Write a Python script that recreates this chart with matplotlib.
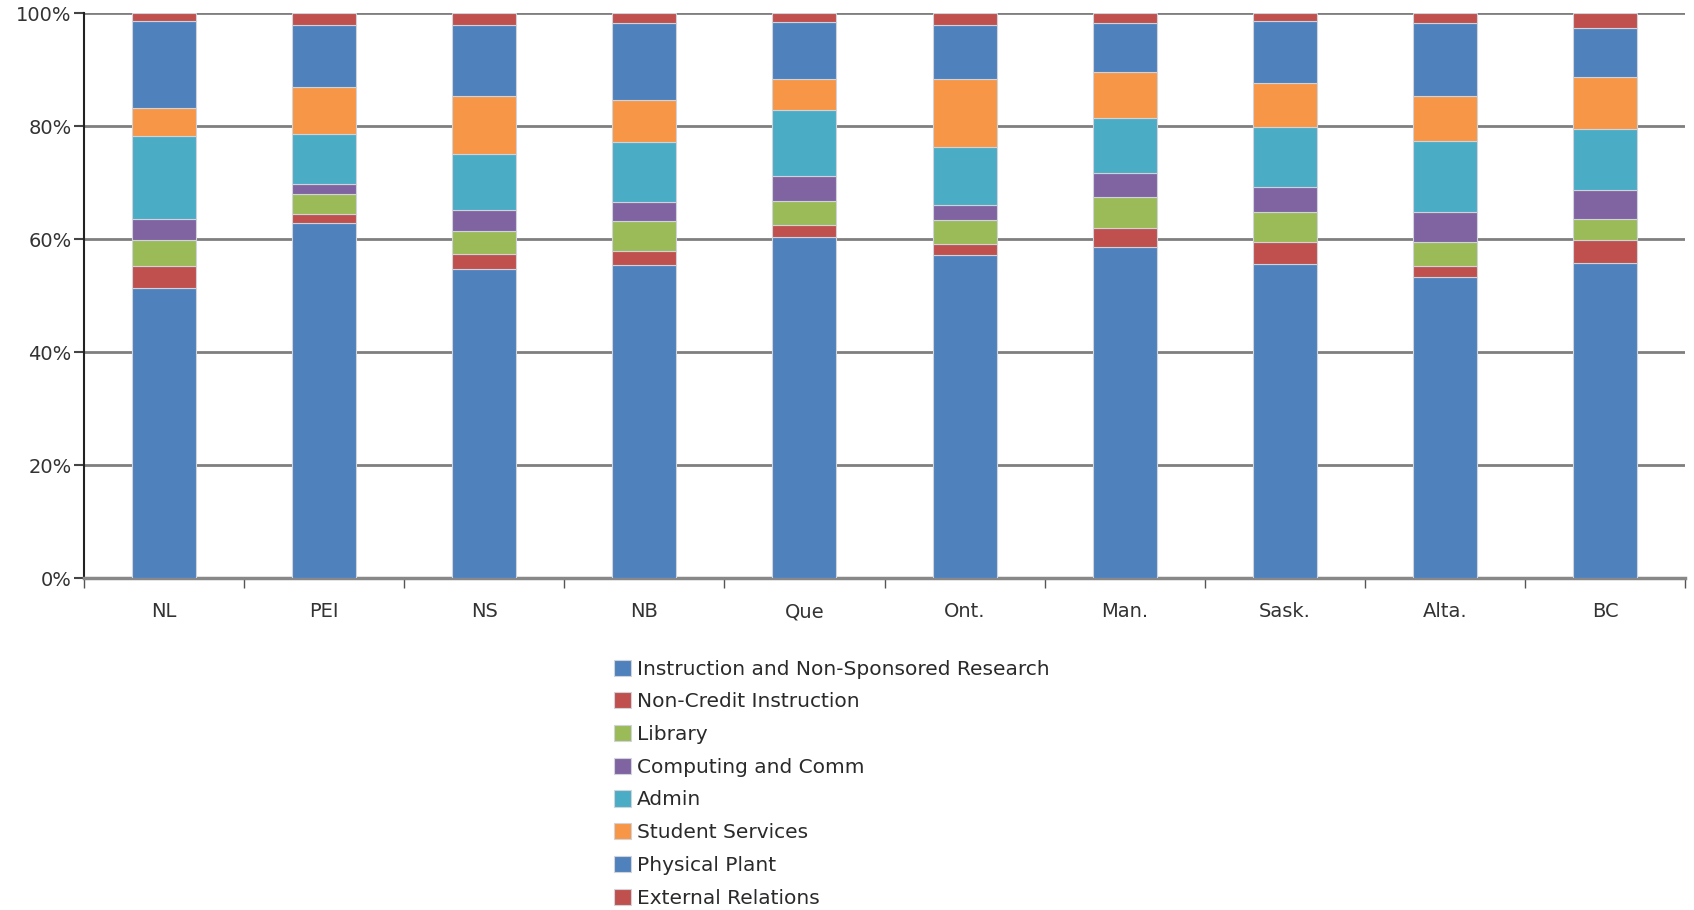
import matplotlib.pyplot as plt
import numpy as np

# Provincial university expenditure shares by function (%)
provinces = ['NL', 'PEI', 'NS', 'NB', 'Que', 'Ont.', 'Man.', 'Sask.', 'Alta.', 'BC']

instruction = [51.4, 62.9, 54.7, 55.4, 60.4, 57.2, 58.6, 55.6, 53.2, 55.8]
non_credit = [3.8, 1.5, 2.6, 2.4, 2.0, 2.0, 3.4, 3.9, 2.1, 4.0]
library = [4.6, 3.5, 4.2, 5.4, 4.3, 4.1, 5.4, 5.3, 4.2, 3.7]
computing = [3.7, 1.9, 3.6, 3.3, 4.5, 2.8, 4.2, 4.4, 5.3, 5.1]
admin = [14.7, 8.7, 9.9, 10.7, 11.6, 10.2, 9.9, 10.6, 12.5, 10.8]
student_services = [5.0, 8.4, 10.3, 7.4, 5.6, 12.0, 8.1, 7.9, 8.1, 9.2]
physical_plant = [15.3, 11.0, 12.5, 13.6, 10.0, 9.5, 8.6, 10.8, 12.8, 8.7]
external_relations = [1.5, 2.1, 2.2, 1.8, 1.6, 2.2, 1.8, 1.5, 1.8, 2.7]

series = [
    ('Instruction and Non-Sponsored Research', instruction, '#4F81BD'),
    ('Non-Credit Instruction', non_credit, '#C0504D'),
    ('Library', library, '#9BBB59'),
    ('Computing and Comm', computing, '#8064A2'),
    ('Admin', admin, '#4BACC6'),
    ('Student Services', student_services, '#F79646'),
    ('Physical Plant', physical_plant, '#4F81BD'),
    ('External Relations', external_relations, '#C0504D'),
]

plt.rcParams['font.family'] = ['DejaVu Sans']
fig = plt.figure(figsize=(16.94, 9.10), dpi=100)
ax = fig.add_axes([0.0496, 0.3648, 0.9451, 0.6209])

x = np.arange(len(provinces))
totals = np.zeros(len(provinces))
for name, vals, col in series:
    vals = np.array(vals)
    ax.bar(x, vals, width=0.4, bottom=totals, color=col, label=name,
           edgecolor='#d0d4da', linewidth=0.8, zorder=3)
    totals += vals

ax.set_xlim(-0.5, len(provinces) - 0.5)
ax.set_ylim(0, 100)
ax.set_yticks(range(0, 101, 20))
ax.set_yticklabels(['{}%'.format(v) for v in range(0, 101, 20)], fontsize=14, color='#333333')
ax.yaxis.grid(True, color='#7f7f7f', linewidth=2, zorder=0)
ax.set_axisbelow(True)

ax.set_xticks(x)
ax.set_xticklabels(provinces, fontsize=14, color='#333333')
ax.set_xticks(np.arange(-0.5, len(provinces)), minor=True)
ax.tick_params(axis='x', which='major', length=0, pad=17.5)
ax.tick_params(axis='x', which='minor', length=7, width=1, color='#555555')
ax.tick_params(axis='y', length=7, width=1.5, color='#444444', pad=2)

for s in ['top', 'right']:
    ax.spines[s].set_visible(False)
ax.spines['left'].set_color('#222222')
ax.spines['left'].set_linewidth(1.5)
ax.spines['bottom'].set_color('#888888')
ax.spines['bottom'].set_linewidth(2.5)

fig.legend(loc='upper left', bbox_to_anchor=(0.3625, 0.2751), frameon=False,
           ncol=1, fontsize=14.5, handlelength=0.85, handleheight=0.85,
           handletextpad=0.3, labelspacing=0.68, borderpad=0, borderaxespad=0,
           labelcolor='#2a2a2a')

fig.savefig('out.png', dpi=100)
